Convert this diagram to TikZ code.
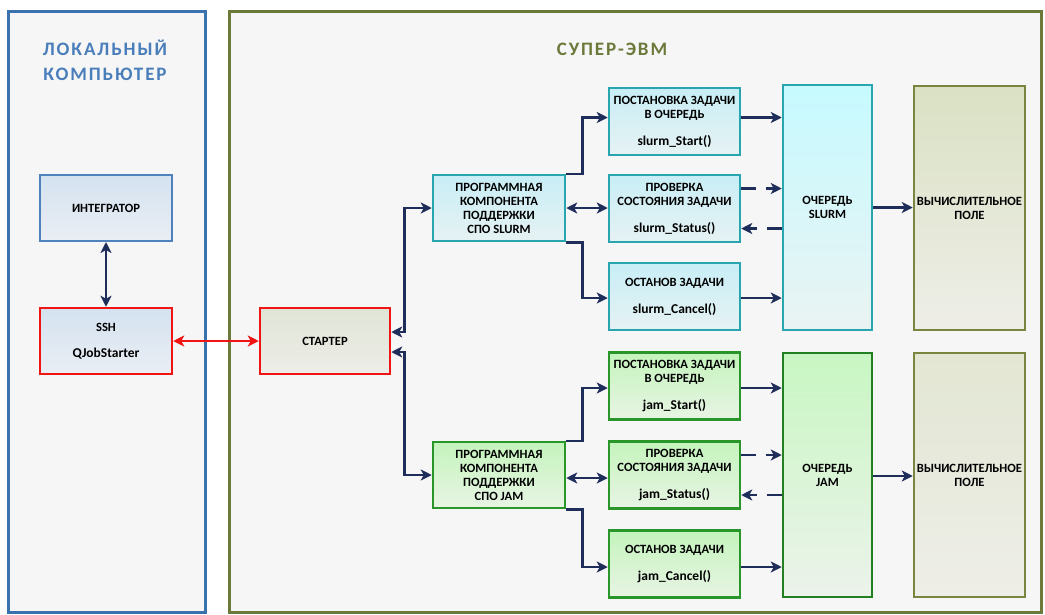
\documentclass[tikz,border=0pt]{standalone}
\usepackage{fontspec}
\setmainfont{Carlito}
\usetikzlibrary{arrows.meta}
\definecolor{navy}{RGB}{31,45,90}
\definecolor{pblue}{RGB}{58,114,176}
\definecolor{tblue}{RGB}{74,126,187}
\definecolor{olive}{RGB}{107,122,58}
\definecolor{ibord}{RGB}{79,129,189}
\definecolor{itop}{RGB}{212,226,240}
\definecolor{ibot}{RGB}{234,238,244}
\definecolor{rred}{RGB}{240,20,20}
\definecolor{teal}{RGB}{40,165,175}
\definecolor{ttop}{RGB}{200,238,245}
\definecolor{tbot}{RGB}{230,242,244}
\definecolor{gbord}{RGB}{40,150,40}
\definecolor{gtop}{RGB}{196,244,188}
\definecolor{gbot}{RGB}{232,244,228}
\definecolor{qtealtop}{RGB}{198,250,255}
\definecolor{qtealbot}{RGB}{234,243,243}
\definecolor{qgtop}{RGB}{200,246,194}
\definecolor{qgbot}{RGB}{236,243,235}
\definecolor{fbord}{RGB}{122,133,64}
\definecolor{ftop}{RGB}{218,225,195}
\definecolor{fbot}{RGB}{238,238,232}
\definecolor{sttop}{RGB}{224,228,214}
\definecolor{stbot}{RGB}{237,238,232}
\definecolor{panelbg}{RGB}{246,246,246}
\newcommand{\fn}[1]{{\fontsize{13.5}{14}\selectfont #1}}
\tikzset{
  box/.style={rectangle, inner sep=0pt, align=center, line width=2.5pt,
    font=\fontsize{12.6}{14}\selectfont\bfseries},
  intbox/.style={box, draw=ibord, line width=2pt, top color=itop, bottom color=ibot,
    minimum width=132pt, minimum height=66pt},
  redbox/.style={box, draw=rred, line width=2.5pt, minimum height=66pt},
  tealbox/.style={box, draw=teal, top color=ttop, bottom color=tbot},
  greenbox/.style={box, draw=gbord, top color=gtop, bottom color=gbot},
  subbox/.style={minimum width=131pt, minimum height=67pt},
  compbox/.style={minimum width=132pt, minimum height=66pt},
  tip/.tip={Stealth[length=11pt,width=11pt,inset=3pt]},
  arr/.style={line width=2.5pt, draw=navy, -tip},
  darr/.style={line width=2.5pt, draw=navy, tip-tip},
  dasharr/.style={arr, dash pattern=on 15pt off 10pt},
  redarr/.style={line width=2.5pt, draw=rred, tip-tip},
  title/.style={font=\fontsize{19}{25}\selectfont\bfseries\addfontfeature{LetterSpace=10}, align=center},
}
\begin{document}
\begin{tikzpicture}[x=1pt,y=-1pt]
\useasboundingbox (0,0) rectangle (1045,614);
\fill[white] (0,0) rectangle (1045,614);
% panels
\draw[line width=3pt, draw=pblue, fill=panelbg] (8,11) rectangle (205,612);
\draw[line width=3pt, draw=olive, fill=panelbg] (229,11) rectangle (1041,612);
\node[title, text=tblue] (tloc) at (105,60) {ЛОКАЛЬНЫЙ\\КОМПЬЮТЕР};
\node[title, text=olive] (tsup) at (612,49) {СУПЕР-ЭВМ};
% left
\node[intbox] (integ) at (106,208) {ИНТЕГРАТОР};
\node[redbox, minimum width=132pt, top color=itop, bottom color=ibot] (ssh) at (106,341) {SSH\\[12pt]\fn{QJobStarter}};
% starter
\node[redbox, minimum width=130pt, top color=sttop, bottom color=stbot] (starter) at (325,341) {СТАРТЕР};
% slurm
\node[tealbox, compbox] (slcomp) at (499,208) {ПРОГРАММНАЯ\\КОМПОНЕНТА\\ПОДДЕРЖКИ\\СПО SLURM};
\node[tealbox, subbox] (slstart) at (674.5,121.5) {ПОСТАНОВКА ЗАДАЧИ\\В ОЧЕРЕДЬ\\[13pt]\fn{slurm\_Start()}};
\node[tealbox, subbox] (slstatus) at (674.5,208.5) {ПРОВЕРКА\\СОСТОЯНИЯ ЗАДАЧИ\\[13pt]\fn{slurm\_Status()}};
\node[tealbox, subbox] (slcancel) at (674.5,296.5) {ОСТАНОВ ЗАДАЧИ\\[13pt]\fn{slurm\_Cancel()}};
\node[box, draw=teal, top color=qtealtop, bottom color=qtealbot, minimum width=89pt, minimum height=245pt] (slq) at (827.5,207.5) {ОЧЕРЕДЬ\\SLURM};
\node[box, draw=fbord, top color=ftop, bottom color=fbot, minimum width=111pt, minimum height=244pt] (slf) at (969.5,208) {ВЫЧИСЛИТЕЛЬНОЕ\\ПОЛЕ};
% jam
\node[greenbox, compbox] (jcomp) at (499,475) {ПРОГРАММНАЯ\\КОМПОНЕНТА\\ПОДДЕРЖКИ\\СПО JAM};
\node[greenbox, subbox] (jstart) at (674.5,386) {ПОСТАНОВКА ЗАДАЧИ\\В ОЧЕРЕДЬ\\[13pt]\fn{jam\_Start()}};
\node[greenbox, subbox] (jstatus) at (674.5,475) {ПРОВЕРКА\\СОСТОЯНИЯ ЗАДАЧИ\\[13pt]\fn{jam\_Status()}};
\node[greenbox, subbox] (jcancel) at (674.5,564) {ОСТАНОВ ЗАДАЧИ\\[13pt]\fn{jam\_Cancel()}};
\node[box, draw=gbord!85!black, top color=qgtop, bottom color=qgbot, minimum width=89pt, minimum height=244pt] (jq) at (827.5,475) {ОЧЕРЕДЬ\\JAM};
\node[box, draw=fbord, top color=ftop!60!fbot, bottom color=fbot, minimum width=111pt, minimum height=244pt] (jf) at (969.5,475) {ВЫЧИСЛИТЕЛЬНОЕ\\ПОЛЕ};
% connectors left
\draw[darr] (integ.south) -- (ssh.north);
\draw[redarr] (ssh.east) -- (starter.east -| starter.west);
% starter to components
\draw[darr] ([yshift=9pt]starter.east) -- ++(13,0) |- (slcomp.west);
\draw[darr] ([yshift=-11pt]starter.east) -- ++(13,0) |- (jcomp.west);
% slurm comp to subs
\draw[arr] (slcomp.north east) -- ++(16,0) |- ([yshift=4pt]slstart.west);
\draw[darr] (slcomp.east) -- (slstatus.west |- slcomp.east);
\draw[arr] (slcomp.south east) -- ++(16,0) |- ([yshift=-1.5pt]slcancel.west);
% slurm subs to queue
\draw[arr] ([yshift=4pt]slstart.east) -- ([yshift=4pt]slstart.east -| slq.west);
\draw[dasharr] ([yshift=20pt]slstatus.east) -- ([yshift=20pt]slstatus.east -| slq.west);
\draw[dasharr] ([yshift=-20pt]slstatus.east -| slq.west) -- ([yshift=-20pt]slstatus.east);
\draw[arr] ([yshift=-1.5pt]slcancel.east) -- ([yshift=-1.5pt]slcancel.east -| slq.west);
\draw[arr] (slq.east) -- (slf.west |- slq.east);
% jam comp to subs
\draw[arr] (jcomp.north east) -- ++(16,0) |- ([yshift=-2pt]jstart.west);
\draw[darr] ([yshift=-3pt]jcomp.east) -- ([yshift=-3pt]jstatus.west |- jcomp.east);
\draw[arr] (jcomp.south east) -- ++(16,0) |- ([yshift=-3pt]jcancel.west);
% jam subs to queue
\draw[arr] ([yshift=-2pt]jstart.east) -- ([yshift=-2pt]jstart.east -| jq.west);
\draw[dasharr] ([yshift=20pt]jstatus.east) -- ([yshift=20pt]jstatus.east -| jq.west);
\draw[dasharr] ([yshift=-20pt]jstatus.east -| jq.west) -- ([yshift=-20pt]jstatus.east);
\draw[arr] ([yshift=-3pt]jcancel.east) -- ([yshift=-3pt]jcancel.east -| jq.west);
\draw[arr] ([yshift=-1pt]jq.east) -- ([yshift=-1pt]jf.west |- jq.east);
\end{tikzpicture}
\end{document}
